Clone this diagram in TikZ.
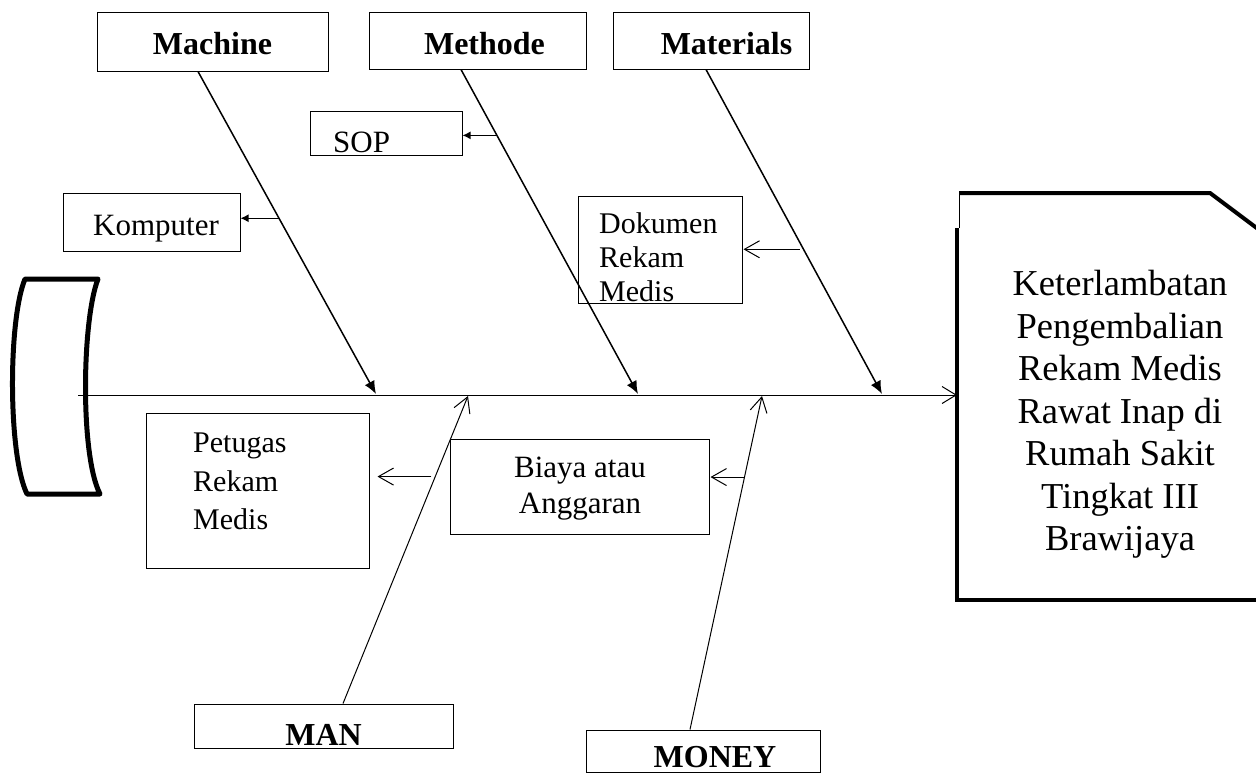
\documentclass[tikz,border=0pt]{standalone}
\usepackage{fontspec}
\setmainfont{Liberation Serif}
\usetikzlibrary{arrows.meta,calc}
\newcommand{\hurufbiasa}{\fontsize{31}{36}\selectfont}
\newcommand{\hurufjudul}{\fontsize{32}{38}\bfseries\selectfont}

\begin{document}
\begin{tikzpicture}[x=1pt,y=-1pt]
\useasboundingbox (0,0) rectangle (1256,772);

\tikzset{kotak/.style={draw, line width=1pt, inner sep=0pt}}
\tikzset{teks/.style={inner sep=0pt, font=\hurufbiasa}}
\tikzset{judul/.style={inner sep=0pt, font=\hurufjudul}}
\tikzset{tulang/.style={line width=1.5pt, -{Latex[length=13pt,width=11pt]}}}
\tikzset{tulangbawah/.style={line width=1pt, -{Straight Barb[length=15pt,width=17pt]}}}
\tikzset{cabang/.style={line width=1.3pt, -{Latex[length=8pt,width=8pt]}}}
\tikzset{cabangbuka/.style={line width=1pt, -{Straight Barb[length=15pt,width=17pt]}}}

% kepala ikan (akibat) dan ekor
\draw[line width=5pt, line join=round] (25,279) -- (98,279) .. controls (82,320) and (80,455) .. (100,494) -- (27,494) .. controls (8,455) and (8,320) .. (25,279) -- cycle;
\draw[line width=4pt] (957,228) -- (957,600) -- (1262,600);
\draw[line width=4pt] (959,193) -- (1210,193) -- (1262,232);
\draw[line width=1pt] (959,193) -- (959,228);
\node[teks, font=\fontsize{36.5}{42.5}\selectfont, align=center, anchor=north] (akibat) at (1120,270) {Keterlambatan\\Pengembalian\\Rekam Medis\\Rawat Inap di\\Rumah Sakit\\Tingkat III\\Brawijaya};

\coordinate (ekor) at (78,395);
\coordinate (kepala) at (957,395);
\draw[line width=1pt, -{Straight Barb[length=14pt,width=17pt]}] (ekor) -- (kepala);

% kategori atas
\node[kotak, minimum width=231pt, minimum height=59pt] (mesin) at (212.5,41.5) {};
\node[kotak, minimum width=217pt, minimum height=57pt] (metode) at (477.5,40.5) {};
\node[kotak, minimum width=196pt, minimum height=57pt] (bahan) at (711,40.5) {};
\node[judul, anchor=base] (tmesin) at (212.5,54) {Machine};
\node[judul, anchor=base] (tmetode) at (484.5,54) {Methode};
\node[judul, anchor=base] (tbahan) at (726.5,54) {Materials};

\coordinate (umesin) at (376,394);
\coordinate (umetode) at (638,394);
\coordinate (ubahan) at (882,394);
\draw[tulang] ([xshift=-14.5pt]mesin.south) -- (umesin);
\draw[tulang] ([xshift=-16.5pt]metode.south) -- (umetode);
\draw[tulang] ([xshift=-5pt]bahan.south) -- (ubahan);

% penyebab atas
\node[kotak, minimum width=177pt, minimum height=58pt] (komputer) at (151.5,222) {};
\node[teks, anchor=base] (tkomputer) at (156,235) {Komputer};
\node[kotak, minimum width=152pt, minimum height=44pt] (sop) at (386,133) {};
\node[teks, anchor=base west] (tsop) at (333,152) {SOP};
\node[kotak, minimum width=164pt, minimum height=107pt] (dokumen) at (660,249.5) {};
\node[teks, font=\fontsize{30}{34}\selectfont, align=left, anchor=north west] (tdokumen) at (599,212.5) {Dokumen\\Rekam\\Medis};

\coordinate (ckomputer) at ($([xshift=-14.5pt]mesin.south)!0.455!(umesin)$);
\coordinate (csop) at ($([xshift=-16.5pt]metode.south)!0.203!(umetode)$);
\coordinate (cdokumen) at ($([xshift=-5pt]bahan.south)!0.554!(ubahan)$);
\draw[cabang] (ckomputer) -- (ckomputer -| komputer.east);
\draw[cabang] (csop) -- (csop -| sop.east);
\draw[cabangbuka] ([xshift=-4pt]cdokumen) -- ([xshift=1pt]cdokumen -| dokumen.east);

% kategori bawah
\node[kotak, minimum width=259pt, minimum height=44pt] (man) at (323.5,726) {};
\node[judul, anchor=base] (tman) at (323.5,745) {MAN};
\node[kotak, minimum width=234pt, minimum height=42pt] (uang) at (703,751) {};
\node[judul, anchor=base] (tuang) at (715,767) {MONEY};

\coordinate (uman) at (468,396);
\coordinate (uuang) at (762,396);
\draw[tulangbawah] ([xshift=19.5pt]man.north) -- (uman);
\draw[tulangbawah] ([xshift=-13pt]uang.north) -- (uuang);

% penyebab bawah
\node[kotak, minimum width=223pt, minimum height=155pt] (petugas) at (257.5,490.5) {};
\node[teks, font=\fontsize{30}{38.5}\selectfont, align=left, anchor=north west] (tpetugas) at (193,433) {Petugas\\Rekam\\Medis};
\node[kotak, minimum width=259pt, minimum height=95pt] (biaya) at (579.5,486.5) {};
\node[teks, align=center, anchor=north] (tbiaya) at (580,457) {Biaya atau\\Anggaran};

\coordinate (cpetugas) at ($([xshift=19.5pt]man.north)!0.738!(uman)$);
\coordinate (cbiaya) at ($([xshift=-13pt]uang.north)!0.757!(uuang)$);
\draw[cabangbuka] ([xshift=-4pt]cpetugas) -- ([xshift=8pt]cpetugas -| petugas.east);
\draw[cabangbuka] (cbiaya) -- ([xshift=1pt]cbiaya -| biaya.east);

\end{tikzpicture}
\end{document}
